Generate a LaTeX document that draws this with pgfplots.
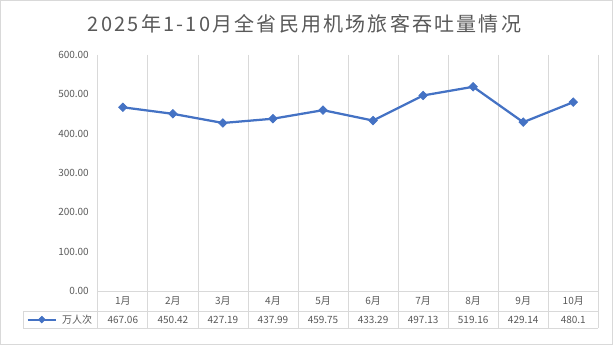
\documentclass[border=0pt]{standalone}
\usepackage{fontspec}
\setmainfont{Noto Sans CJK SC}
\newfontfamily\titlefont[LetterSpace=11]{Noto Sans CJK SC}
\usepackage{pgfplots}
\pgfplotsset{compat=1.18}
\definecolor{lineblue}{HTML}{4472C4}
\definecolor{gridc}{HTML}{D9D9D9}
\definecolor{txt}{HTML}{595959}
\begin{document}
\begin{tikzpicture}
\useasboundingbox (-97.8bp,-54bp) rectangle (515.2bp,291bp);
\draw[gridc, line width=0.75bp] (-97.3bp,-53.5bp) rectangle (514.7bp,290.5bp);
\begin{axis}[
  at={(0,0)}, anchor=south west,
  width=500.5bp, height=236bp, scale only axis,
  xmin=0.5, xmax=10.5, ymin=0, ymax=600,
  axis line style={draw=none},
  major tick length=0pt,
  clip=false,
  /pgf/number format/fixed,
  /pgf/number format/fixed zerofill,
  /pgf/number format/precision=2,
  /pgf/number format/assume math mode=true,
  ytick={0,100,...,600},
  yticklabel style={anchor=east, inner sep=0pt, xshift=-8.8bp, font=\fontsize{10bp}{12bp}\selectfont, text=txt},
  xtick={1,...,10},
  xticklabels={1月,2月,3月,4月,5月,6月,7月,8月,9月,10月},
  xticklabel style={anchor=center, inner sep=0pt, yshift=-10bp, font=\fontsize{10bp}{12bp}\selectfont, text=txt},
  extra x ticks={1,...,10},
  extra x tick labels={467.06,450.42,427.19,437.99,459.75,433.29,497.13,519.16,429.14,480.1},
  extra x tick style={xticklabel style={yshift=-18.6bp}},
  legend style={at={(axis cs:0.5,0)}, anchor=west, xshift=-71.1bp, yshift=-28.6bp,
    draw=none, fill=none, inner sep=0pt, outer sep=0pt,
    font=\fontsize{10bp}{12bp}\selectfont, text=txt, nodes={inner sep=0pt}},
  legend cell align=left,
  legend image code/.code={\draw[mark repeat=2, mark phase=2, #1, line width=2bp, mark size=2.3bp] plot coordinates {(0bp,0bp) (14.15bp,0bp) (28.3bp,0bp)}; \path (33.3bp,0bp);},
]
\pgfplotsinvokeforeach{0.5,1.5,...,10.5}{
  \draw[gridc, line width=0.75bp] (axis cs:#1,600) -- ([yshift=-37.3bp]axis cs:#1,0);
}
\draw[gridc, line width=0.75bp] (axis cs:0.5,0) -- (axis cs:10.5,0);
\draw[gridc, line width=0.75bp] ([shift={(-74.5bp,-20bp)}]axis cs:0.5,0) -- ([yshift=-20bp]axis cs:10.5,0);
\draw[gridc, line width=0.75bp] ([shift={(-74.5bp,-37.3bp)}]axis cs:0.5,0) -- ([yshift=-37.3bp]axis cs:10.5,0);
\draw[gridc, line width=0.75bp] ([shift={(-74.5bp,-20bp)}]axis cs:0.5,0) -- ([shift={(-74.5bp,-37.3bp)}]axis cs:0.5,0);
\addplot[lineblue, line width=2.25bp, mark=square*, mark size=3bp, mark options={rotate=45, solid, fill=lineblue, line width=0.75bp}] table {
x y
1 467.06
2 450.42
3 427.19
4 437.99
5 459.75
6 433.29
7 497.13
8 519.16
9 429.14
10 480.1
};
\addlegendentry{万人次}
\end{axis}
\node[font=\titlefont\fontsize{20bp}{24bp}\selectfont, text=txt] at (206.7bp,267bp) {2025年1-10月全省民用机场旅客吞吐量情况};
\end{tikzpicture}
\end{document}
